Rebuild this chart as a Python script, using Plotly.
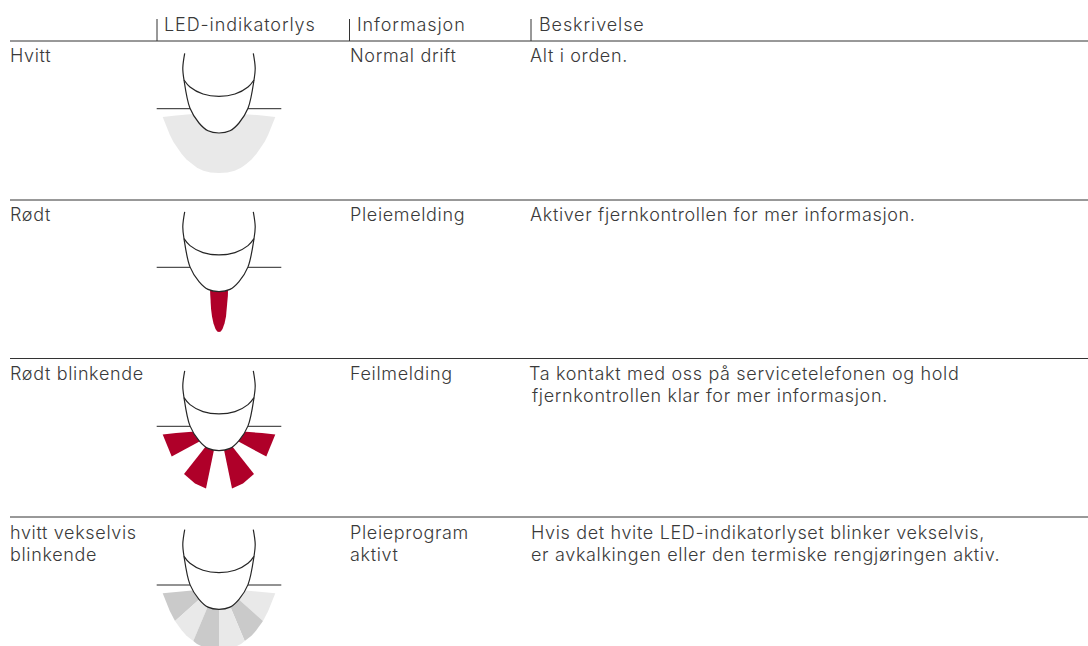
import plotly.graph_objects as go

W, H = 1088, 646
FONT = "Inter"
INK = "#3a3a3a"
RED = "#af0029"
LIGHT = "#e9e9e9"
DARK = "#cacaca"

# table text
HEADERS = ["LED-indikatorlys", "Informasjon", "Beskrivelse"]
HEADER_X = [164, 357, 539]
HEADER_Y = 25
HEADER_BAR_X = [157, 349.5, 531]
ROW_RULE_Y = [41, 200, 358.5, 517]
ROW_OFFSET = [0, 158.6, 317.6, 476.3]
TEXT_LINES = [
    ("Hvitt", 10, 56), ("Normal drift", 350, 56), ("Alt i orden.", 530, 56),
    ("Rødt", 10, 215), ("Pleiemelding", 350, 215),
    ("Aktiver fjernkontrollen for mer informasjon.", 530, 215),
    ("Rødt blinkende", 10, 374), ("Feilmelding", 350, 374),
    ("Ta kontakt med oss på servicetelefonen og hold", 529, 374),
    ("fjernkontrollen klar for mer informasjon.", 532, 396),
    ("hvitt vekselvis", 10, 533), ("blinkende", 10, 555),
    ("Pleieprogram", 350, 533), ("aktivt", 350, 555),
    ("Hvis det hvite LED-indikatorlyset blinker vekselvis,", 531, 533),
    ("er avkalkingen eller den termiske rengjøringen aktiv.", 531, 555),
]

# icon outlines in the first row's coordinates; left half, mirrored about AXIS
AXIS = 219
FINGER = [(184.7, 53.3), (182.8, 68), (184, 80), (190, 108.3), (199, 123), (208, 130.8), (219, 133)]
NAIL = [(184, 80), (190, 87), (203, 94), (219, 96.3)]
SHELF_Y = 108.7
SHELF_X = [156.7, 190]
HALO = [(162.7, 117), (164.6, 122), (166.7, 127.3), (169.8, 134.8), (173.3, 141.7), (177.3, 148),
        (181.7, 154), (186.5, 159.5), (191.7, 164), (197, 167.8), (203.3, 170.7), (210.5, 172.4), (219, 173)]
HALO_TOP = [(219, 113), (205, 113.4), (190, 114.3), (176, 115.4)]
TONGUE = [(210, 131.4), (210.1, 137), (210.4, 143), (211, 150), (212, 158), (213.5, 165),
          (215.5, 170.5), (217.2, 172.8), (219, 173.4)]
RED_WEDGES = [
    [(162.7, 117), (171.7, 139), (205, 121), (192, 114.2), (176, 115.4)],
    [(184, 156.4), (195, 166), (206, 171), (215.5, 125), (212, 121)],
]
GREY_WEDGES = [
    (DARK, [(162.7, 117), (166.7, 127.3), (169.8, 134.8), (175, 144.7), (205, 118), (192, 114.2), (176, 115.4)]),
    (LIGHT, [(175, 144.7), (177.3, 148), (181.7, 154), (186.5, 159.5), (193.3, 164.8), (210, 125), (205, 118)]),
    (DARK, [(193.3, 164.8), (197, 167.8), (203.3, 170.7), (210.5, 172.4), (219, 173), (219, 125), (210, 125)]),
]

def mirror(pts):
    return [(2 * AXIS - x, y) for x, y in pts]

def both(pts):
    return pts + mirror(pts)[::-1][1:]

fig = go.Figure()

def line(xs, ys, color="#262626", width=1.0, shape="linear"):
    fig.add_trace(go.Scatter(x=xs, y=ys, mode="lines", hoverinfo="skip",
                             line=dict(color=color, width=width, shape=shape)))

def fill(pts, color, shape="linear"):
    xs = [p[0] for p in pts]
    ys = [p[1] for p in pts]
    fig.add_trace(go.Scatter(x=xs + xs[:1], y=ys + ys[:1], mode="lines", fill="toself",
                             fillcolor=color, hoverinfo="skip",
                             line=dict(color="rgba(0,0,0,0)", width=0, shape=shape)))

def shift(pts, dy):
    return [(x, y + dy) for x, y in pts]

def curve(pts, dy):
    line([p[0] for p in pts], [p[1] + dy for p in pts], width=1.2, shape="spline")

for i, dy in enumerate(ROW_OFFSET):
    if i == 0:
        fill(shift(both(HALO) + mirror(HALO_TOP)[::-1] + HALO_TOP[1:], dy), LIGHT)
    elif i == 1:
        fill(shift(both(TONGUE), dy), RED)
    elif i == 2:
        for w in RED_WEDGES:
            fill(shift(w, dy), RED)
            fill(shift(mirror(w), dy), RED)
    else:
        for k, (c, w) in enumerate(GREY_WEDGES):
            fill(shift(w, dy), c)
            fill(shift(mirror(w), dy), LIGHT if c == DARK else DARK)
    fill(shift(both(FINGER), dy), "#ffffff", "spline")
    curve(both(FINGER), dy)
    curve(both(NAIL), dy)
    line(SHELF_X, [SHELF_Y + dy] * 2)
    line([2 * AXIS - SHELF_X[0], 2 * AXIS - SHELF_X[1]], [SHELF_Y + dy] * 2)

for y in ROW_RULE_Y:
    line([10, W], [y, y], color="#333333", width=1)
for x in HEADER_BAR_X:
    line([x, x], [19, 41], color="#333333", width=1)

xs = HEADER_X + [t[1] for t in TEXT_LINES]
# middle-anchored Inter sits about 1px high of the reference's line centres
ys = [v + 1 for v in [HEADER_Y] * len(HEADERS) + [t[2] for t in TEXT_LINES]]
txt = HEADERS + [t[0] for t in TEXT_LINES]
fig.add_trace(go.Scatter(x=xs, y=ys, text=txt, mode="text", textposition="middle right",
                         hoverinfo="skip", cliponaxis=False,
                         textfont=dict(family=FONT, size=18, color=INK, weight=300)))

fig.update_layout(
    width=W, height=H, margin=dict(l=0, r=0, t=0, b=0), showlegend=False,
    paper_bgcolor="white", plot_bgcolor="white",
    xaxis=dict(range=[0, W], visible=False, fixedrange=True),
    yaxis=dict(range=[H, 0], visible=False, fixedrange=True),
)
POST = """
document.body.style.margin = '0';
document.documentElement.style.overflow = 'hidden';
document.querySelectorAll('.textpoint text').forEach(function (t, i) {
  t.style.letterSpacing = i < 3 ? '0.9px' : '0.65px';
});
"""
fig.write_html("out.html", config={"displayModeBar": False}, post_script=POST)
